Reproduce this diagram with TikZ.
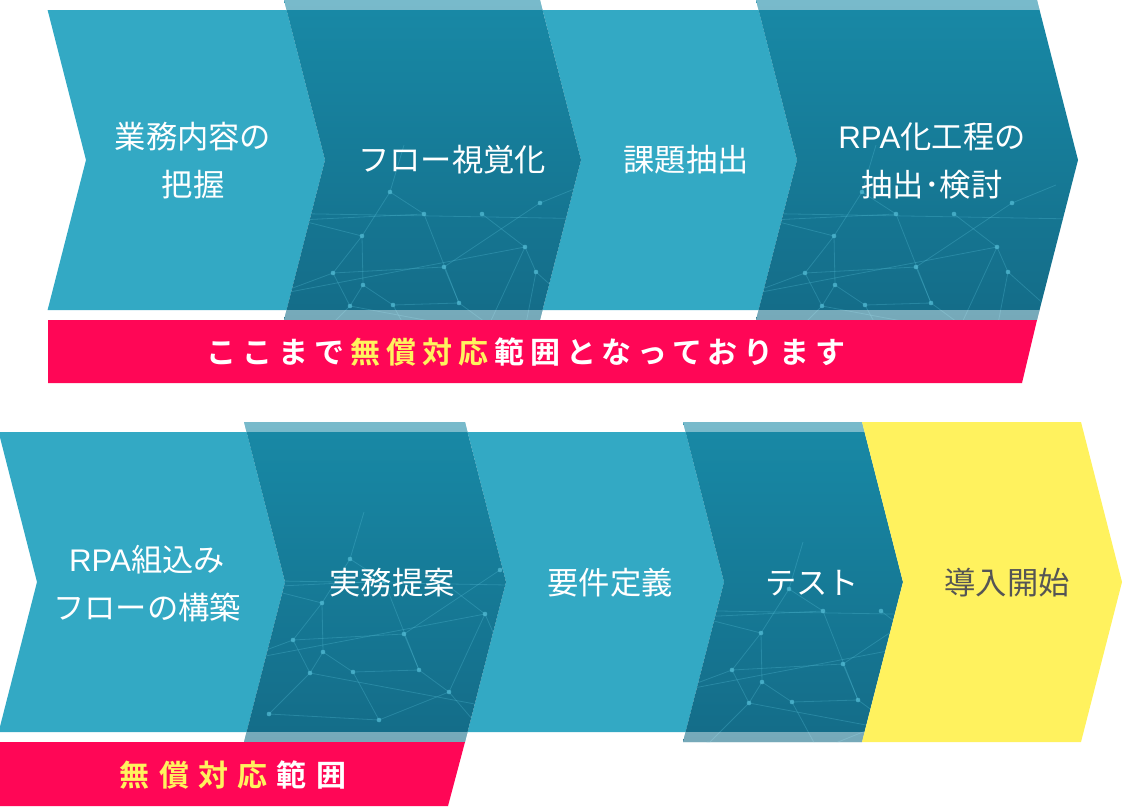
\documentclass[tikz,border=0pt]{standalone}
\usepackage{fontspec}
\newfontfamily\jp{Noto Sans CJK JP}
\newfontfamily\lat{Liberation Sans}
\newfontfamily\jpb{Noto Sans CJK JP Bold}[LetterSpace=20]
\newfontfamily\jpbw{Noto Sans CJK JP Bold}[LetterSpace=31]
\definecolor{lightc}{RGB}{51,169,196}
\definecolor{darktop}{RGB}{24,137,166}
\definecolor{darkbot}{RGB}{20,108,136}
\definecolor{pinkc}{RGB}{255,6,86}
\definecolor{yel}{RGB}{255,242,94}
\definecolor{netc}{RGB}{85,190,215}
\definecolor{txtgray}{RGB}{85,85,85}
\newcommand\bsp{\kern6pt\relax}
\newcommand\bspw{\kern9.3pt\relax}
\tikzset{
  lightchev/.style={fill=lightc},
  netline/.style={draw=netc,opacity=0.3,line width=0.8pt},
  netdot/.style={fill=netc,opacity=0.7},
  lab/.style={text=white,align=center,inner sep=0pt,font=\jp\fontsize{31.3}{48}\selectfont},
  bann/.style={text=white,inner sep=0pt,font=\jpb\fontsize{30}{34}\selectfont},
  bannw/.style={text=white,inner sep=0pt,font=\jpbw\fontsize{30}{34}\selectfont},
  bandfill/.style={fill=white,opacity=0.42}
}
\newcommand\netpat{%
  \coordinate (na) at (15,45); \coordinate (nb) at (106,17); \coordinate (nc) at (140,39);
  \coordinate (nd) at (198,39); \coordinate (ne) at (256,28); \coordinate (nf) at (78,61);
  \coordinate (ng) at (241,72); \coordinate (nh) at (49,98); \coordinate (ni) at (79,110);
  \coordinate (nj) at (252,97); \coordinate (nk) at (66,131); \coordinate (nl) at (109,130);
  \coordinate (nm) at (160,92); \coordinate (nn) at (205,150); \coordinate (no) at (25,172);
  \coordinate (np) at (135,178); \coordinate (nq) at (235,185); \coordinate (nr) at (175,128);
  \coordinate (ns) at (-10,120); \coordinate (nt) at (300,140); \coordinate (nu) at (120,-30);
  \coordinate (nv) at (300,10); \coordinate (nw) at (300,175); \coordinate (nx) at (-20,80);
  \draw[netline] (-20,38) -- (320,44);
  \draw[netline] (nu) -- (nb) -- (nc) -- (nr) -- (nn) -- (np) -- (no);
  \draw[netline] (nb) -- (nf) -- (nh) -- (nk) -- (no);
  \draw[netline] (nf) -- (ni) -- (nl) -- (np);
  \draw[netline] (na) -- (nf);
  \draw[netline] (nx) -- (na) -- (nc);
  \draw[netline] (nv) -- (ne) -- (nm) -- (nh);
  \draw[netline] (nm) -- (nr);
  \draw[netline] (nl) -- (nr);
  \draw[netline] (nd) -- (ng) -- (nj) -- (nq) -- (nn) -- (ng);
  \draw[netline] (nj) -- (nt);
  \draw[netline] (ns) -- (nh);
  \draw[netline] (ns) -- (ng);
  \draw[netline] (nk) -- (nw);
  \draw[netline] (ni) -- (nk);
  \foreach \p in {na,nb,nc,nd,ne,nf,ng,nh,ni,nj,nk,nl,nm,nn,no,np,nq,nr}
    \fill[netdot] (\p) circle (2.3);
}
\newcommand\darkchev[4]{%
  \shade[top color=darktop,bottom color=darkbot] (#1,#3) -- (#2,#3) -- ++(41,160) -- ++(-41,160) -- ++({#1-#2},0) -- ++(41,-160) -- cycle;
  \begin{scope}
    \clip (#1,#3) -- (#2,#3) -- ++(41,160) -- ++(-41,160) -- ++({#1-#2},0) -- ++(41,-160) -- cycle;
    \begin{scope}[shift={(#1,{#3+#4})}]
      \netpat
    \end{scope}
    \fill[bandfill] (0,#3) rectangle (1124,{#3+10});
    \fill[bandfill] (0,{#3+310}) rectangle (1124,{#3+320});
  \end{scope}}
\begin{document}
\begin{tikzpicture}[x=1pt,y=-1pt]
\useasboundingbox (0,0) rectangle (1124,806);
% ---- row 1 ----
\fill[lightchev] (47.6,10) -- (286.6,10) -- (325,160) -- (286.6,310) -- (47.6,310) -- (86,160) -- cycle;
\fill[lightchev] (542.6,10) -- (758.6,10) -- (797,160) -- (758.6,310) -- (542.6,310) -- (581,160) -- cycle;
\darkchev{284}{540}{0}{175}
\darkchev{756}{1037}{0}{175}
\fill[pinkc] (48,320) -- (1037,320) -- (1022,383) -- (48,383) -- cycle;
% ---- row 2 ----
\fill[lightchev] (-1.4,432) -- (246.6,432) -- (285,582) -- (246.6,732) -- (-1.4,732) -- (37,582) -- cycle;
\fill[lightchev] (467.6,432) -- (685.6,432) -- (724,582) -- (685.6,732) -- (467.6,732) -- (506,582) -- cycle;
\darkchev{244}{465}{422}{120}
\darkchev{683}{862}{422}{150}
\fill[yel] (862,422) -- (1081,422) -- (1122,582) -- (1081,742) -- (862,742) -- (903,582) -- cycle;
\fill[pinkc] (0,742) -- (465,742) -- (448,806) -- (0,806) -- cycle;
% ---- labels ----
\node[lab] (t1) at (193,161) {業務内容の\\把握};
\node[lab] (t2) at (452,160) {フロー視覚化};
\node[lab] (t3) at (686,160) {課題抽出};
\node[lab] (t4) at (932,161) {{\lat RPA}化工程の\\抽出･検討};
\node[bann] (b1) at (526,352) {ここまで\bsp\textcolor{yel}{無償対応}\bsp 範囲となっております};
\node[lab] (t5) at (147,584) {{\lat RPA}組込み\\フローの構築};
\node[lab] (t6) at (392,583) {実務提案};
\node[lab] (t7) at (610,583) {要件定義};
\node[lab] (t8) at (812,583) {テスト};
\node[lab,text=txtgray] (t9) at (1007,583) {導入開始};
\node[bannw] (b2) at (233,775) {\textcolor{yel}{無償対応}\bspw 範囲};
\end{tikzpicture}
\end{document}
